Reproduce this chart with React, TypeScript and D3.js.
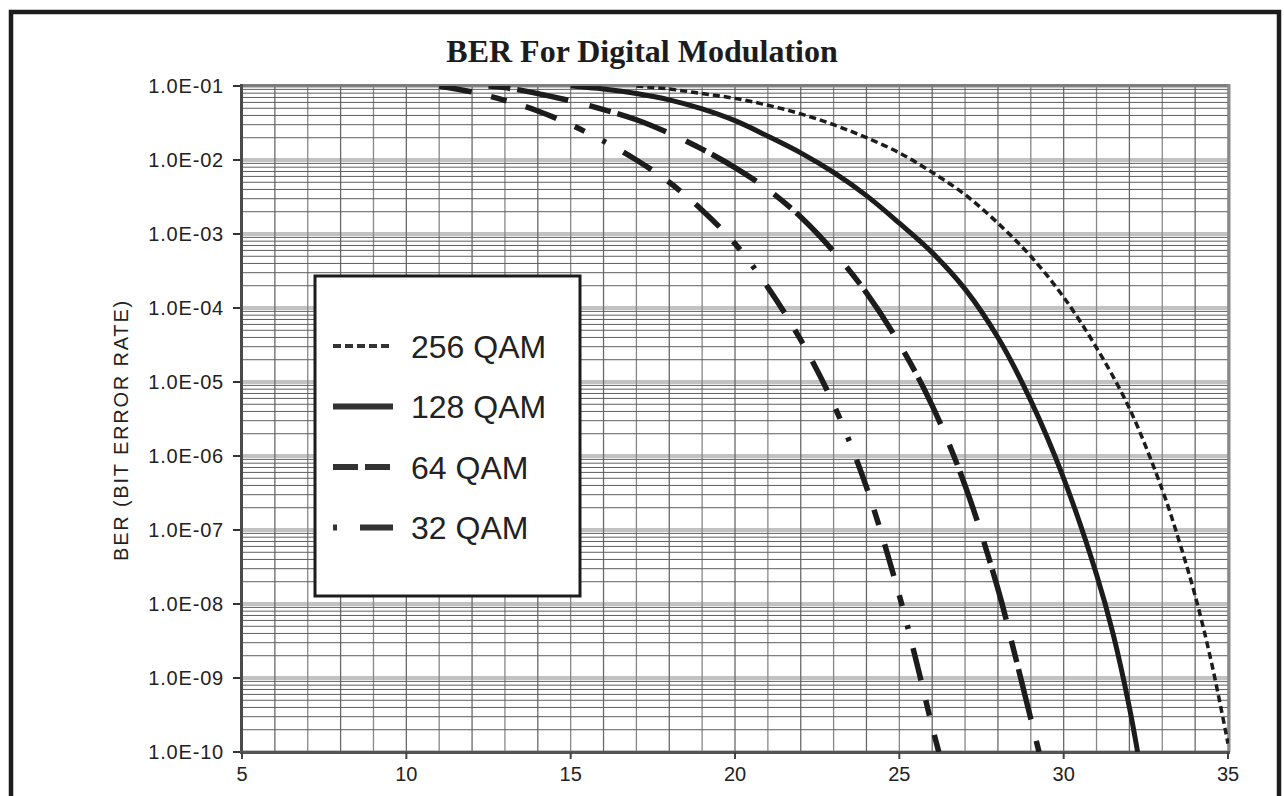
import React from 'react';
import * as d3 from 'd3';

// Eb/No (dB) and bit error rate, one pair of arrays per modulation
const snr256 = [17, 18, 19, 20, 21, 22, 23, 24, 25, 26, 27, 28, 29, 30, 31, 32, 33, 33.5, 34, 34.5, 35];
const ber256 = [1.0e-1, 9.1e-2, 7.9e-2, 6.8e-2, 5.5e-2, 4.2e-2, 3.0e-2, 2.0e-2, 1.25e-2, 6.8e-3, 3.4e-3, 1.4e-3, 5.0e-4, 1.4e-4, 2.9e-5, 4.4e-6, 3.5e-7, 7.4e-8, 1.3e-8, 1.6e-9, 1.3e-10];

const snr128 = [15, 16, 17, 18, 19, 20, 21, 22, 23, 24, 25, 26, 27, 28, 29, 30, 31, 31.5, 32, 32.25];
const ber128 = [1.0e-1, 9.1e-2, 7.9e-2, 6.5e-2, 4.9e-2, 3.4e-2, 2.1e-2, 1.25e-2, 6.8e-3, 3.3e-3, 1.4e-3, 5.6e-4, 1.8e-4, 4.0e-5, 5.6e-6, 5.0e-7, 2.5e-8, 4.0e-9, 4.0e-10, 1.0e-10];

const snr64 = [12.5, 13, 14, 15, 16, 17, 18, 19, 20, 21, 22, 23, 24, 25, 26, 27, 28, 28.5, 29, 29.25];
const ber64 = [1.0e-1, 9.5e-2, 7.9e-2, 6.3e-2, 4.8e-2, 3.5e-2, 2.3e-2, 1.4e-2, 7.9e-3, 4.0e-3, 1.7e-3, 5.8e-4, 1.6e-4, 3.3e-5, 4.8e-6, 4.0e-7, 1.6e-8, 2.2e-9, 2.8e-10, 1.0e-10];

const snr32 = [11, 12, 13, 14, 15, 16, 17, 18, 19, 20, 21, 22, 23, 24, 25, 25.5, 26, 26.2];
const ber32 = [1.0e-1, 8.3e-2, 6.4e-2, 4.6e-2, 3.0e-2, 1.8e-2, 1.0e-2, 5.0e-3, 2.1e-3, 7.4e-4, 1.9e-4, 3.7e-5, 5.0e-6, 3.8e-7, 1.3e-8, 1.8e-9, 2.2e-10, 1.0e-10];

const legendLabels = ['256 QAM', '128 QAM', '64 QAM', '32 QAM'];

const xTickValues = [5, 10, 15, 20, 25, 30, 35];
const xTickLabels = ['5', '10', '15', '20', '25', '30', '35'];
const yTickValues = [1e-1, 1e-2, 1e-3, 1e-4, 1e-5, 1e-6, 1e-7, 1e-8, 1e-9, 1e-10];
const yTickLabels = ['1.0E-01', '1.0E-02', '1.0E-03', '1.0E-04', '1.0E-05', '1.0E-06', '1.0E-07', '1.0E-08', '1.0E-09', '1.0E-10'];

const App = () => {
  const width = 1284;
  const height = 796;
  // plot box in page pixels
  const plot = { left: 242, right: 1228, top: 86, bottom: 752 };
  const ink = '#1c1c1c';
  const sans = '"Liberation Sans", Arial, sans-serif';

  const xScale = d3.scaleLinear().domain([5, 35]).range([plot.left, plot.right]);
  const yScale = d3.scaleLog().domain([1e-10, 1e-1]).range([plot.bottom, plot.top]);

  const linePlot = d3.line<[number, number]>()
    .x(d => xScale(d[0]))
    .y(d => yScale(d[1]))
    .curve(d3.curveCatmullRom.alpha(0.5));

  const series = [
    { x: snr256, y: ber256, width: 3.5, dash: '7 4', legendDash: '8 4', legendWidth: 4 },
    { x: snr128, y: ber128, width: 5, dash: null, legendDash: null, legendWidth: 6 },
    { x: snr64, y: ber64, width: 5.5, dash: '22 7 52 22', legendDash: '25 7', legendWidth: 6 },
    { x: snr32, y: ber32, width: 5.5, dash: '33 20 16 20 33 20 11 20 4 20', legendDash: '4 23 35', legendWidth: 6 },
  ];

  // grid lines
  const xGrid = d3.range(5, 36);
  const decades = yTickValues;
  const minorY = decades.slice(1).flatMap(dec => d3.range(2, 10).map(m => dec * m));

  const legend = { x: 315, y: 276, w: 265, h: 320, rowTop: 346, rowGap: 60.5 };

  return (
    <svg
      width={width}
      height={height}
      viewBox={`0 0 ${width} ${height}`}
      style={{ position: 'absolute', left: 0, top: 0, background: '#fff' }}
    >
      <defs>
        <clipPath id='plotClip'>
          <rect x={plot.left} y={plot.top} width={plot.right - plot.left + 1} height={plot.bottom - plot.top} />
        </clipPath>
      </defs>

      <rect x={0} y={0} width={width} height={height} fill='#fff' />
      {/* outer frame, open at the bottom */}
      <rect x={11} y={12} width={1268} height={840} fill='none' stroke={ink} strokeWidth={4.5} />

      <text
        x={642}
        y={62}
        textAnchor='middle'
        fontFamily='"Liberation Serif", "Times New Roman", serif'
        fontWeight='bold'
        fontSize={32}
        fill={ink}
      >
        BER For Digital Modulation
      </text>

      {/* grid */}
      <g>
        {decades.map((d, i) => (
          <line key={'dec' + i} x1={plot.left} x2={plot.right} y1={yScale(d)} y2={yScale(d)} stroke='#c2c2c2' strokeWidth={4} />
        ))}
        {xGrid.map((v, i) => (
          <line key={'vx' + i} x1={xScale(v)} x2={xScale(v)} y1={plot.top} y2={plot.bottom} stroke={i % 2 ? '#6a6a6a' : '#888'} strokeWidth={1.3} />
        ))}
        {minorY.map((v, i) => (
          <line key={'my' + i} x1={plot.left} x2={plot.right} y1={yScale(v)} y2={yScale(v)} stroke='#5e5e5e' strokeWidth={1} />
        ))}
      </g>

      {/* plot frame */}
      <line x1={plot.left - 1} x2={plot.right + 2} y1={plot.top - 0.5} y2={plot.top - 0.5} stroke='#7d7d7d' strokeWidth={3} />
      <line x1={plot.right + 1} x2={plot.right + 1} y1={plot.top - 2} y2={plot.bottom} stroke='#8a8a8a' strokeWidth={3} />
      <line x1={plot.left - 0.5} x2={plot.left - 0.5} y1={plot.top - 2} y2={plot.bottom + 1.5} stroke='#4a4a4a' strokeWidth={3} />
      <line x1={plot.left - 2} x2={plot.right + 2} y1={plot.bottom + 0.5} y2={plot.bottom + 0.5} stroke='#555' strokeWidth={3} />

      {/* y axis ticks */}
      {yTickValues.map((v, i) => (
        <g key={'yt' + i}>
          <line x1={plot.left - 9} x2={plot.left - 2} y1={yScale(v)} y2={yScale(v)} stroke='#333' strokeWidth={2} />
          <text x={plot.left - 18} y={yScale(v)} dy='0.36em' textAnchor='end' fontFamily={sans} fontSize={20} letterSpacing={0.8} fill='#222'>
            {yTickLabels[i]}
          </text>
        </g>
      ))}

      {/* x axis ticks */}
      {xTickValues.map((v, i) => (
        <g key={'xt' + i}>
          <line x1={xScale(v)} x2={xScale(v)} y1={plot.bottom} y2={plot.bottom + 7} stroke='#444' strokeWidth={2} />
          <text x={xScale(v)} y={781} textAnchor='middle' fontFamily={sans} fontSize={20} fill='#222'>
            {xTickLabels[i]}
          </text>
        </g>
      ))}

      <text
        transform={`translate(128, 430) rotate(-90)`}
        textAnchor='middle'
        fontFamily={sans}
        fontSize={20}
        letterSpacing={1.8}
        fill='#222'
      >
        BER (BIT ERROR RATE)
      </text>

      {/* curves */}
      <g clipPath='url(#plotClip)'>
        {series.map((s, i) => (
          <path
            key={'c' + i}
            d={linePlot(s.x.map((v, j) => [v, s.y[j]] as [number, number])) || ''}
            fill='none'
            stroke={ink}
            strokeWidth={s.width}
            strokeDasharray={s.dash || undefined}
          />
        ))}
      </g>

      {/* legend */}
      <rect x={legend.x} y={legend.y} width={legend.w} height={legend.h} fill='#fff' stroke={ink} strokeWidth={3} />
      {legendLabels.map((label, i) => {
        const cy = legend.rowTop + i * legend.rowGap;
        const s = series[i];
        return (
          <g key={'lg' + i}>
            <line x1={333} x2={393} y1={cy} y2={cy} stroke='#333' strokeWidth={s.legendWidth} strokeDasharray={s.legendDash || undefined} />
            <text x={411} y={cy} dy='0.36em' fontFamily={sans} fontSize={32} fill='#222'>
              {label}
            </text>
          </g>
        );
      })}
    </svg>
  );
};

export default App;
